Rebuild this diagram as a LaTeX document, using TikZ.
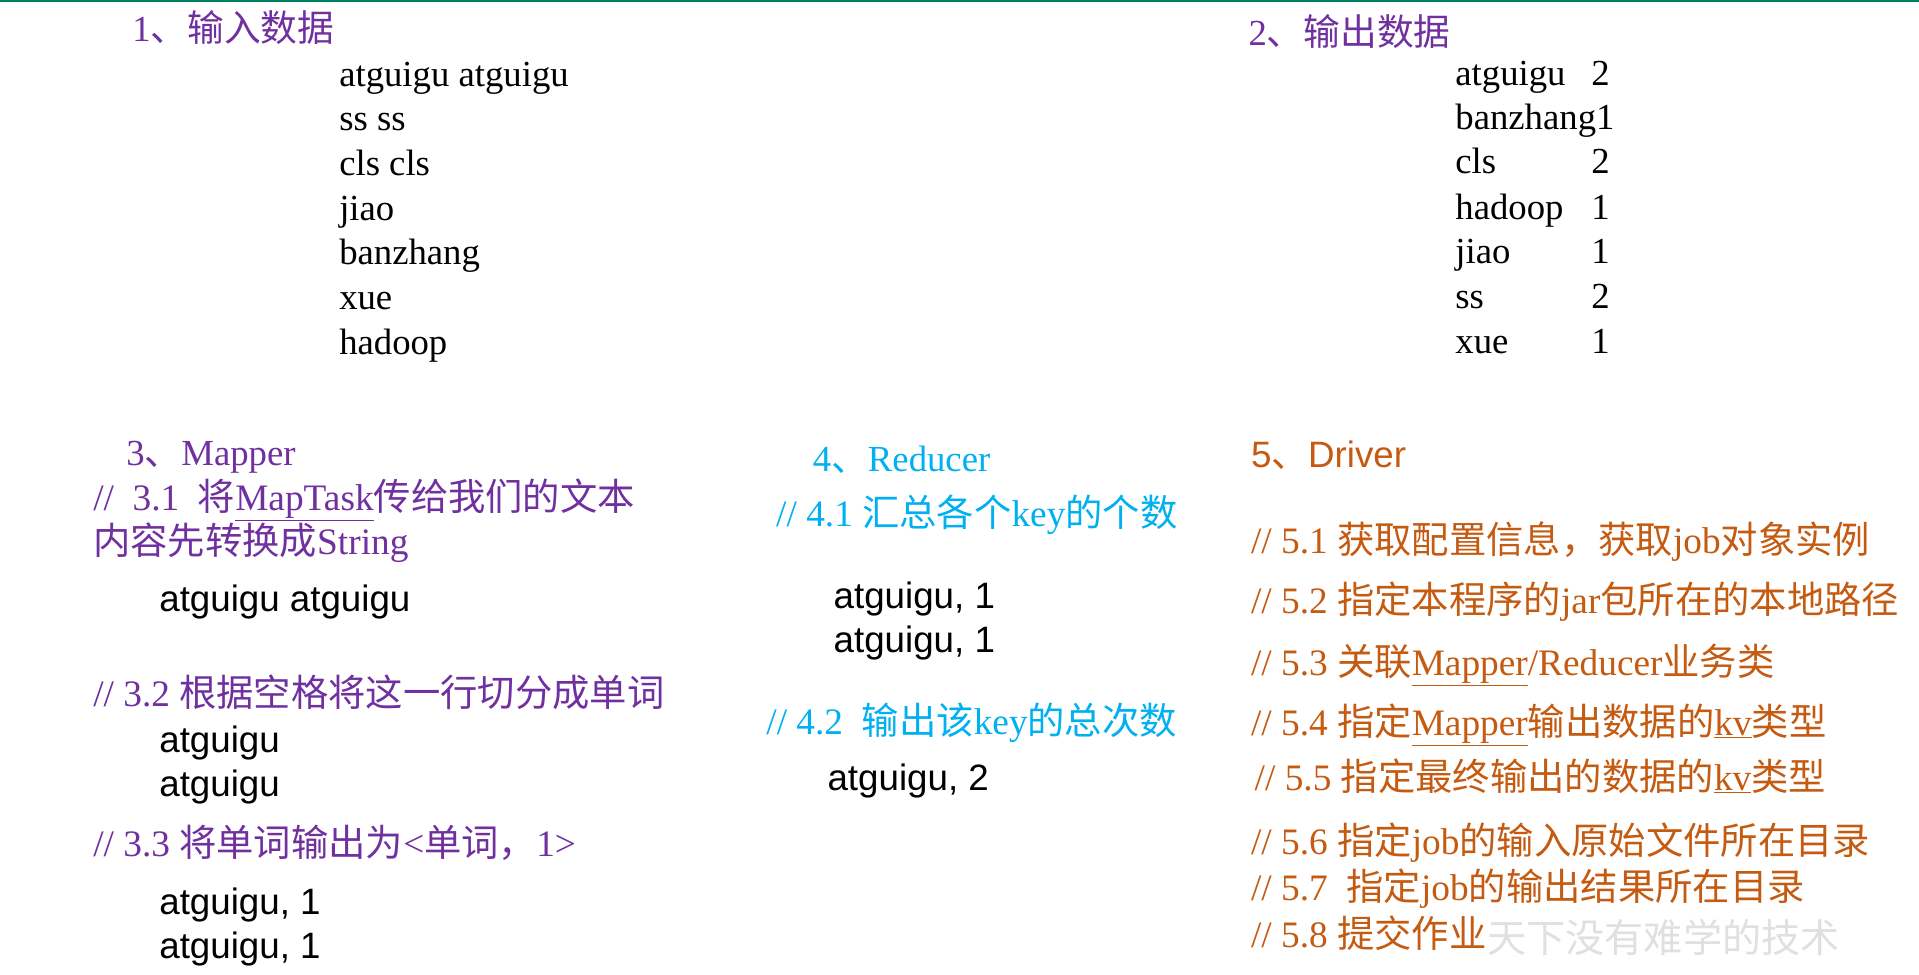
\documentclass[tikz,border=0pt]{standalone}
\usepackage{fontspec}
\setmainfont{Liberation Serif}
\setsansfont{Liberation Sans}
\newfontfamily\cjk{Noto Sans CJK SC}
\newcommand{\C}[1]{{\cjk #1}}
\definecolor{pur}{RGB}{112,48,160}
\definecolor{cya}{RGB}{0,176,240}
\definecolor{ora}{RGB}{197,90,17}
\definecolor{topg}{RGB}{0,128,96}
\begin{document}
\begin{tikzpicture}[x=1pt,y=-1pt,
  t/.style={anchor=base west,inner sep=0pt,yshift=-10pt,font=\fontsize{30}{32}\selectfont},
  ts/.style={t,font=\fontsize{30}{32}\selectfont\sffamily},
  cmt/.style={t,font=\fontsize{30.5}{32}\selectfont}]
\useasboundingbox (0,0) rectangle (1568,796);
\fill[white] (0,0) rectangle (1568,796);
\draw[topg,line width=1.5pt] (0,0.5) -- (1568,0.5);
% 1
\node[t,pur] (h1) at (108,24) {1\C{、输入数据}};
\foreach \s [count=\i] in {atguigu atguigu,ss ss,cls cls,jiao,banzhang,xue,hadoop}
  \node[t] (in\i) at (277,24+36.5*\i) {\s};
% 2
\node[t,pur] (h2) at (1020,27) {2\C{、输出数据}};
\foreach \s/\n/\yy [count=\i] in {atguigu/2/60,cls/2/132,hadoop/1/169,jiao/1/205,ss/2/242,xue/1/279}
  {\node[t] (ow\i) at (1189,\yy) {\s};
   \node[t] (oc\i) at (1300,\yy) {\n};}
\node[t] (ob) at (1189,96) {banzhang1};
% 3
\node[t,pur] (h3) at (103,370) {3\C{、}Mapper};
\node[cmt,pur] (c31) at (76,407) {//\ \ 3.1\ \ \C{将}\underline{MapTask}\C{传给我们的文本}};
\node[cmt,pur] (c31b) at (76,443) {\C{内容先转换成}String};
\node[ts] (m1) at (130,490) {atguigu atguigu};
\node[cmt,pur] (c32) at (76,567) {// 3.2 \C{根据空格将这一行切分成单词}};
\node[ts] (m2) at (130,605) {atguigu};
\node[ts] (m3) at (130,641) {atguigu};
\node[cmt,pur] (c33) at (76,690) {// 3.3 \C{将单词输出为}<\C{单词，}1>};
\node[ts] (m4) at (130,737) {atguigu, 1};
\node[ts] (m5) at (130,773) {atguigu, 1};
% 4
\node[t,cya] (h4) at (664,375) {4\C{、}Reducer};
\node[cmt,cya] (c41) at (634,420) {// 4.1 \C{汇总各个}key\C{的个数}};
\node[ts] (r1) at (681,487) {atguigu, 1};
\node[ts] (r2) at (681,523) {atguigu, 1};
\node[cmt,cya] (c42) at (626,590) {// 4.2\ \ \C{输出该}key\C{的总次数}};
\node[ts] (r3) at (676,636) {atguigu, 2};
% 5
\node[t,ora,font=\fontsize{30}{32}\selectfont\sffamily] (h5) at (1022,372) {5\C{、}Driver};
\node[cmt,ora] (d1) at (1022,442) {// 5.1 \C{获取配置信息，获取}job\C{对象实例}};
\node[cmt,ora] (d2) at (1022,491) {// 5.2 \C{指定本程序的}jar\C{包所在的本地路径}};
\node[cmt,ora] (d3) at (1022,542) {// 5.3 \C{关联}\underline{Mapper}/Reducer\C{业务类}};
\node[cmt,ora] (d4) at (1022,591) {// 5.4 \C{指定}\underline{Mapper}\C{输出数据的}\underline{kv}\C{类型}};
\node[cmt,ora] (d5) at (1025,636) {// 5.5 \C{指定最终输出的数据的}\underline{kv}\C{类型}};
\node[cmt,ora] (d6) at (1022,688) {// 5.6 \C{指定}job\C{的输入原始文件所在目录}};
\node[cmt,ora] (d7) at (1022,726) {// 5.7\ \ \C{指定}job\C{的输出结果所在目录}};
\node[cmt,ora] (d8) at (1022,764) {// 5.8 \C{提交作业}};
\node[t,black!12,font=\fontsize{32}{32}\cjk] (wm) at (1215,768) {天下没有难学的技术};
\end{tikzpicture}
\end{document}
